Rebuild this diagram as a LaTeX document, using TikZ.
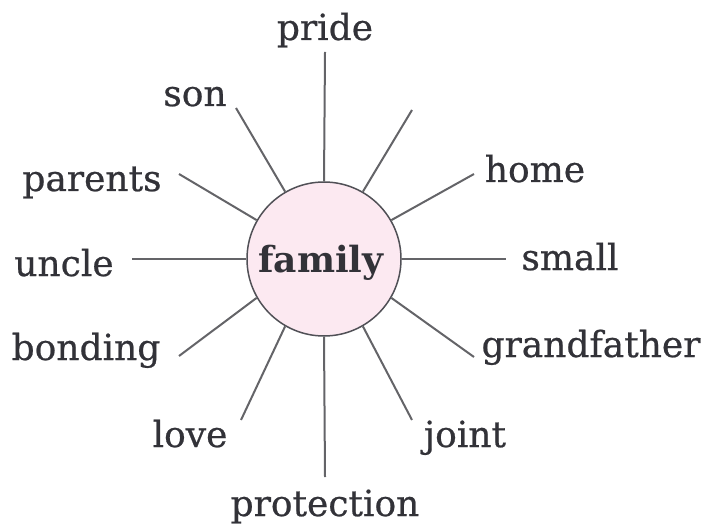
\documentclass[tikz,border=0pt]{standalone}
\usepackage{fontspec}
\setmainfont{DejaVu Serif}
\newfontfamily\wordfont[FakeBold=0.6]{DejaVu Serif}
\definecolor{txt}{RGB}{50,50,56}
\definecolor{spoke}{RGB}{100,100,104}
\definecolor{hubfill}{RGB}{252,233,241}
\definecolor{hubline}{RGB}{80,80,86}
\begin{document}
\begin{tikzpicture}[x=1pt,y=-1pt,
  word/.style={anchor=base,text=txt,inner sep=0pt,font=\wordfont\fontsize{36}{40}\selectfont},
  spk/.style={draw=spoke,line width=2pt},
  hub/.style={circle,draw=hubline,line width=1.5pt,fill=hubfill,minimum size=154pt,inner sep=0pt}]
\useasboundingbox (0,0) rectangle (708,526);
\node[hub] (c) at (324,259) {};
\node[anchor=base,text=txt,inner sep=0pt,font=\fontsize{36}{40}\selectfont\bfseries] (fam) at (321,272) {family};
% spoke ends
\coordinate (e90) at (325,52);
\coordinate (e120) at (236,108);
\coordinate (e60) at (412,110);
\coordinate (e150) at (179,174);
\coordinate (e30) at (474,174);
\coordinate (e180) at (132,259);
\coordinate (e0) at (506,259);
\coordinate (e210) at (179,356);
\coordinate (e330) at (474,357);
\coordinate (e240) at (241,420);
\coordinate (e300) at (412,420);
\coordinate (e270) at (325,477);
\foreach \a in {0,30,60,90,120,150,180,210,240,270,300,330}
  \draw[spk] (c.\a) -- (e\a);
% labels
\node[word] (pride) at (325,40) {pride};
\node[word] (son) at (195,106) {son};
\node[word] (parents) at (92,191) {parents};
\node[word] (home) at (535,182) {home};
\node[word] (uncle) at (64,276) {uncle};
\node[word] (small) at (570,270) {small};
\node[word] (bonding) at (86,360) {bonding};
\node[word] (grandfather) at (591,357) {grandfather};
\node[word] (love) at (190,447) {love};
\node[word] (joint) at (465,447) {joint};
\node[word] (protection) at (325,516) {protection};
\end{tikzpicture}
\end{document}
